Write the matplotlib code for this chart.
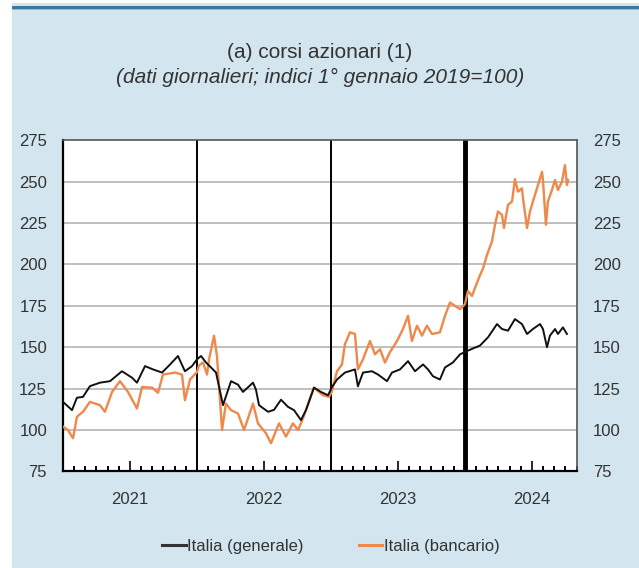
import matplotlib
matplotlib.use("Agg")
import matplotlib.pyplot as plt
from matplotlib.patches import Rectangle
from matplotlib.lines import Line2D

# === DATA (x in decimal years) ===
gen_t = [2021.000, 2021.067, 2021.104, 2021.149, 2021.201, 2021.276, 2021.351, 2021.440,
         2021.515, 2021.552, 2021.612, 2021.672, 2021.739, 2021.799, 2021.858, 2021.910,
         2021.963, 2022.000, 2022.030, 2022.067, 2022.119, 2022.142, 2022.194, 2022.254,
         2022.306, 2022.343, 2022.418, 2022.440, 2022.463, 2022.530, 2022.575, 2022.627,
         2022.679, 2022.724, 2022.776, 2022.813, 2022.873, 2022.925, 2022.978, 2023.005,
         2023.045, 2023.104, 2023.179, 2023.201, 2023.239, 2023.306, 2023.351, 2023.418,
         2023.455, 2023.515, 2023.575, 2023.627, 2023.687, 2023.724, 2023.761, 2023.813,
         2023.851, 2023.910, 2023.963, 2024.015, 2024.052, 2024.112, 2024.172, 2024.239,
         2024.276, 2024.321, 2024.373, 2024.425, 2024.463, 2024.507, 2024.560, 2024.582,
         2024.612, 2024.634, 2024.672, 2024.694, 2024.731, 2024.761]
gen_v = [117, 112, 119.5, 120, 126.5, 128.6, 129.5, 135.5,
         131.6, 128.6, 138.6, 136.6, 134.7, 139.6, 144.7, 135.5,
         138.6, 142.7, 144.7, 140.8, 136.6, 134.7, 115, 129.5,
         127.4, 123, 128.6, 124.4, 115, 111, 112.2, 118.3,
         114, 112, 106, 112, 125.6, 123, 121, 125.6,
         130.5, 134.7, 136.6, 126.4, 134.7, 135.5, 133.5, 129.5,
         134.7, 136.6, 141.6, 135.5, 139.6, 136.6, 132.5, 130.5,
         137.8, 140.8, 145.7, 147.7, 149, 151, 156, 164,
         161, 160, 167, 164, 158, 161, 164, 161,
         150, 157, 161, 158, 162, 158]

banc_t = [2021.000, 2021.037, 2021.075, 2021.104, 2021.149, 2021.201, 2021.276, 2021.313,
          2021.366, 2021.425, 2021.485, 2021.552, 2021.590, 2021.664, 2021.709, 2021.746,
          2021.836, 2021.888, 2021.910, 2021.948, 2022.000, 2022.015, 2022.045, 2022.075,
          2022.090, 2022.127, 2022.149, 2022.187, 2022.216, 2022.254, 2022.306, 2022.351,
          2022.418, 2022.455, 2022.515, 2022.552, 2022.612, 2022.664, 2022.716, 2022.754,
          2022.791, 2022.813, 2022.873, 2022.940, 2022.985, 2023.005, 2023.045, 2023.082,
          2023.104, 2023.142, 2023.179, 2023.201, 2023.239, 2023.291, 2023.328, 2023.366,
          2023.403, 2023.440, 2023.493, 2023.537, 2023.575, 2023.604, 2023.642, 2023.679,
          2023.716, 2023.754, 2023.813, 2023.851, 2023.888, 2023.925, 2023.963, 2024.000,
          2024.022, 2024.052, 2024.090, 2024.112, 2024.134, 2024.164, 2024.201, 2024.224,
          2024.246, 2024.276, 2024.291, 2024.321, 2024.351, 2024.373, 2024.396, 2024.425,
          2024.433, 2024.463, 2024.485, 2024.507, 2024.545, 2024.575, 2024.582, 2024.604,
          2024.619, 2024.649, 2024.672, 2024.694, 2024.724, 2024.746, 2024.761, 2024.769]
banc_v = [102, 100, 95, 108, 111, 117, 115, 111,
          123, 129.5, 123, 113, 126, 125.6, 122.5, 133.5,
          134.7, 133.5, 118, 130.5, 135, 139, 140.8, 133.5,
          142.7, 157, 144.7, 100, 116, 112, 110, 100,
          116, 104, 98, 92, 104, 96, 104, 100,
          107, 112, 125.6, 121, 120, 123, 135.5, 139.6,
          151.8, 159, 158, 136.6, 142.7, 153.8, 145.7, 148.8,
          140.7, 147, 153.8, 161, 169, 153.8, 163, 157,
          163, 158, 159, 169, 177, 175, 173, 176,
          184, 181, 189, 193.5, 197.5, 205.7, 213.8, 224,
          232, 230, 222, 236, 238, 251.5, 244, 246,
          240, 222, 232, 238, 248, 256, 251, 224,
          238, 245, 251, 245, 250, 260, 248, 251]

years = [2021, 2022, 2023, 2024]
y_ticks = [75, 100, 125, 150, 175, 200, 225, 250, 275]

BG = "#d3e5ee"
ORANGE = "#f0884a"
TXT = "#333333"

plt.rcParams["font.family"] = ["Liberation Sans", "DejaVu Sans"]

fig = plt.figure(figsize=(6.39, 5.68), dpi=100)
fig.patch.set_facecolor("white")

# panel background and top rule
W, H = 639.0, 568.0
fig.patches.append(Rectangle((12 / W, 0), 1, (H - 3) / H, transform=fig.transFigure,
                             facecolor=BG, edgecolor="none", zorder=-10))
fig.patches.append(Rectangle((12 / W, (H - 10) / H), 1, 1 / H, transform=fig.transFigure,
                             facecolor="#86c2d2", edgecolor="none", zorder=-9))
fig.patches.append(Rectangle((12 / W, (H - 9) / H), 1, 2.5 / H, transform=fig.transFigure,
                             facecolor="#3b7b97", edgecolor="none", zorder=-9))

ax = fig.add_axes([63 / W, (H - 471.4) / H, (577 - 63) / W, (471.4 - 140.3) / H])
ax.set_facecolor("white")

ax.set_xlim(2021, 2024.836)
ax.set_ylim(75, 275)

for y in y_ticks[1:-1]:
    ax.axhline(y, color="#b4b4b4", lw=1.2, zorder=1)

# year separators
for yr in years[1:]:
    ax.axvline(yr, color="black", lw=3.5 if yr == 2024 else 1.4, zorder=2)

ax.plot(gen_t, gen_v, color="#111111", lw=1.4, zorder=4, label="Italia (generale)")
ax.plot(banc_t, banc_v, color=ORANGE, lw=1.7, zorder=3, label="Italia (bancario)")

# y axis on both sides
ax.set_yticks(y_ticks)
ax.tick_params(axis="y", which="both", length=0, labelsize=12, labelcolor=TXT,
               left=True, right=True, labelleft=True, labelright=True, pad=11.5)

# x axis: month ticks, year labels at mid-year
months = [yr + m / 12 for yr in years for m in range(12) if yr + m / 12 <= 2024.836]
ax.set_xticks([yr + 0.5 for yr in years])
ax.set_xticklabels([str(y) for y in years])
ax.set_xticks(months, minor=True)
ax.tick_params(axis="x", which="major", direction="in", length=7, width=1.2,
               color="black", labelsize=12, labelcolor=TXT, pad=14.5)
ax.tick_params(axis="x", which="minor", direction="in", length=3.5, width=1.4, color="black")

for side in ["left", "bottom"]:
    ax.spines[side].set_linewidth(1.6)
    ax.spines[side].set_color("black")
for side in ["top", "right"]:
    ax.spines[side].set_linewidth(1.2)
    ax.spines[side].set_color("#555555")

fig.text(320 / W, 1 - 53 / H, "(a) corsi azionari (1)", ha="center", va="center",
         fontsize=15, color=TXT)
fig.text(320 / W, 1 - 77 / H, "(dati giornalieri; indici 1° gennaio 2019=100)",
         ha="center", va="center", fontsize=15, style="italic", color=TXT)

handles = [Line2D([], [], color="#333333", lw=2.2), Line2D([], [], color=ORANGE, lw=2.2)]
fig.legend(handles, ["Italia (generale)", "Italia (bancario)"], loc="center",
           bbox_to_anchor=(331 / W, 1 - 546 / H), ncol=2, frameon=False,
           fontsize=12, handlelength=1.4, handletextpad=0.1, columnspacing=3.3,
           labelcolor=TXT)

fig.savefig("out.png", dpi=100, facecolor=fig.get_facecolor())
